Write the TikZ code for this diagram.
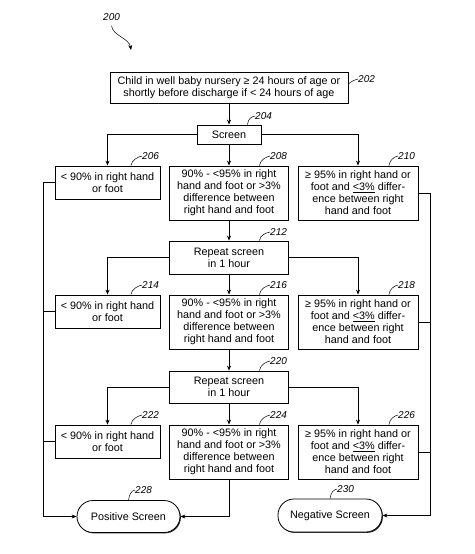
\documentclass[tikz,border=0pt]{standalone}
\usepackage{fontspec}
\setmainfont{Liberation Sans}
\usetikzlibrary{arrows.meta,shadows}

\tikzset{
  box/.style={draw, line width=0.8pt, fill=white, align=center, inner sep=1pt,
    font=\fontsize{10.8}{12}\selectfont,
    drop shadow={shadow xshift=0.9pt, shadow yshift=-0.9pt, fill=black, opacity=0.85}},
  term/.style={box, rounded corners=16pt},
  tag/.style={font=\fontsize{10}{10}\selectfont\itshape, inner sep=0pt, anchor=west},
  lead/.style={line width=0.5pt},
  flow/.style={line width=0.7pt, -{Stealth[length=5pt,width=4pt]}},
  bus/.style={line width=0.7pt},
}

\def\lowtext{< 90\% in right hand\\or foot}
\def\midtext{90\% - <95\% in right\\hand and foot or >3\%\\difference between\\right hand and foot}
\def\hightext{≥ 95\% in right hand or\\foot and \underline{<3\%} differ-\\ence between right\\hand and foot}

\begin{document}
\begin{tikzpicture}[x=1pt,y=-1pt]
  \useasboundingbox (0,0) rectangle (474,554);

  % boxes
  \node[box, minimum width=238pt, minimum height=31pt] (n202) at (229,87.5)
    {Child in well baby nursery ≥ 24 hours of age or\\shortly before discharge if < 24 hours of age};
  \node[box, minimum width=64pt, minimum height=19pt] (n204) at (229,134.5) {Screen};

  \node[box, minimum width=105pt, minimum height=33pt] (n206) at (107.5,182.5) {\lowtext};
  \node[box, minimum width=119pt, minimum height=54pt] (n208) at (229,193) {\midtext};
  \node[box, minimum width=120pt, minimum height=54pt] (n210) at (358,193) {\hightext};

  \node[box, minimum width=119pt, minimum height=33pt] (n212) at (229,257.5) {Repeat screen\\in 1 hour};

  \node[box, minimum width=105pt, minimum height=33pt] (n214) at (107.5,311.5) {\lowtext};
  \node[box, minimum width=119pt, minimum height=54pt] (n216) at (229,322) {\midtext};
  \node[box, minimum width=120pt, minimum height=54pt] (n218) at (358,322) {\hightext};

  \node[box, minimum width=119pt, minimum height=32pt] (n220) at (229,387) {Repeat screen\\in 1 hour};

  \node[box, minimum width=105pt, minimum height=33pt] (n222) at (107.5,441.5) {\lowtext};
  \node[box, minimum width=119pt, minimum height=54pt] (n224) at (229,452) {\midtext};
  \node[box, minimum width=120pt, minimum height=54pt] (n226) at (358,452) {\hightext};

  \node[term, minimum width=103pt, minimum height=32pt] (pos) at (128.5,516.5) {Positive Screen};
  \node[term, minimum width=104pt, minimum height=33pt] (neg) at (330,515.5) {Negative Screen};

  % flow
  \draw[flow] (n202.south) -- (n204.north);
  \draw[flow] (n204.west) -| (n206.north);
  \draw[flow] (n204.south) -- (n208.north);
  \draw[flow] (n204.east) -| (n210.north);
  \draw[flow] (n208.south) -- (n212.north);
  \draw[flow] (n212.west) -| (n214.north);
  \draw[flow] (n212.south) -- (n216.north);
  \draw[flow] (n212.east) -| (n218.north);
  \draw[flow] (n216.south) -- (n220.north);
  \draw[flow] (n220.west) -| (n222.north);
  \draw[flow] (n220.south) -- (n224.north);
  \draw[flow] (n220.east) -| (n226.north);
  \draw[flow] (n224.south) |- (pos.east);

  \coordinate (leftbus) at (43,0);
  \coordinate (rightbus) at (430,0);
  \draw[bus] (n206.west) -- (n206.west -| leftbus);
  \draw[bus] (n214.west) -- (n214.west -| leftbus);
  \draw[bus] (n222.west) -- (n222.west -| leftbus);
  \draw[flow] (n206.west -| leftbus) |- (pos.west);
  \draw[bus] (n210.east) -- (n210.east -| rightbus);
  \draw[bus] (n218.east) -- (n218.east -| rightbus);
  \draw[bus] (n226.east) -- (n226.east -| rightbus);
  \draw[flow] (n210.east -| rightbus) |- (neg.east);

  % reference numerals
  \node[tag] (t200) at (103,17) {200};
  \coordinate (fig) at (131,50);
  \draw[lead, -{Stealth[length=5pt,width=4pt]}] ([yshift=-5pt]t200.south)
    .. controls +(1,10) and +(-2,-12) .. (fig);

  \node[tag] (t202) at (358,79) {202};
  \draw[lead] ([yshift=3.5pt]n202.east) .. controls +(2,-2) and +(-4,1) .. (t202.west);
  \node[tag] (t204) at (255,116) {204};
  \draw[lead] ([xshift=-14pt]n204.north east) .. controls +(1,-6) and +(-4,1) .. (t204.west);

  \node[tag] (t206) at (142,156) {206};
  \node[tag] (t208) at (270,156) {208};
  \node[tag] (t210) at (398,156) {210};
  \node[tag] (t212) at (270,232) {212};
  \node[tag] (t214) at (142,285) {214};
  \node[tag] (t216) at (270,285) {216};
  \node[tag] (t218) at (398,285) {218};
  \node[tag] (t220) at (270,361) {220};
  \node[tag] (t222) at (142,415) {222};
  \node[tag] (t224) at (270,415) {224};
  \node[tag] (t226) at (398,415) {226};
  \foreach \n in {206,208,210,212,214,216,218,220,222,224,226}
    \draw[lead] ([xshift=-29.5pt]n\n.north east) .. controls +(1,-6) and +(-4,1) .. (t\n.west);

  \node[tag] (t228) at (135,490) {228};
  \draw[lead] (pos.north) .. controls +(1,-6) and +(-4,1) .. (t228.west);
  \node[tag] (t230) at (337,489) {230};
  \draw[lead] (neg.north) .. controls +(1,-6) and +(-4,1) .. (t230.west);
\end{tikzpicture}
\end{document}
